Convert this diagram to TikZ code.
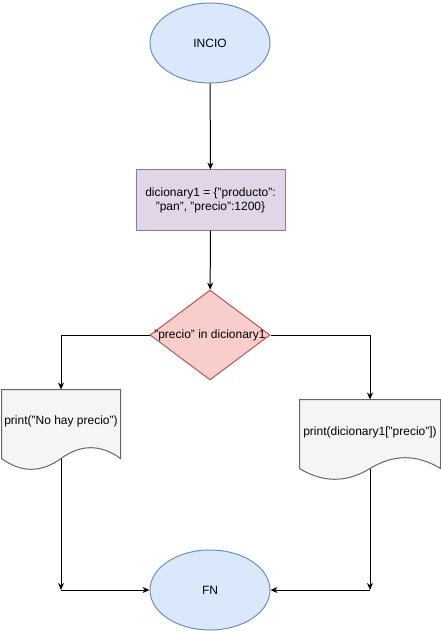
\documentclass[tikz,border=0pt]{standalone}
\usepackage{fontspec}
\setmainfont{Liberation Sans}
\usetikzlibrary{shapes.geometric,arrows.meta,calc}

\definecolor{termfill}{HTML}{DAE8FC}
\definecolor{termline}{HTML}{6C8EBF}
\definecolor{procfill}{HTML}{E1D5E7}
\definecolor{procline}{HTML}{9673A6}
\definecolor{decfill}{HTML}{F8CECC}
\definecolor{decline}{HTML}{B85450}
\definecolor{docfill}{HTML}{F5F5F5}
\definecolor{docline}{HTML}{666666}

\tikzset{
  terminal/.style={ellipse, draw=termline, fill=termfill, minimum width=120pt, minimum height=80pt, inner sep=0pt},
  process/.style={rectangle, draw=procline, fill=procfill, minimum width=149pt, minimum height=60pt, align=center, inner sep=0pt},
  decision/.style={diamond, draw=decline, fill=decfill, minimum width=120pt, minimum height=90pt, inner sep=0pt},
  docbox/.style={rectangle, minimum height=80pt, inner sep=0pt},
  flow/.style={-{Stealth[length=7pt,width=6pt]}, black}
}

% document shape with wavy bottom
\newcommand{\docwave}[1]{
  \draw[docline, fill=docfill] (#1.north west) -- (#1.north east) -- ($(#1.south east)+(0,-12)$)
    .. controls ($(#1.south west)!0.8333!(#1.south east)+(0,-26.4)$) and ($(#1.south west)!0.6667!(#1.south east)+(0,-26.4)$) .. ($(#1.south west)!0.5!(#1.south east)+(0,-12)$)
    .. controls ($(#1.south west)!0.3333!(#1.south east)+(0,2.4)$) and ($(#1.south west)!0.1667!(#1.south east)+(0,2.4)$) .. ($(#1.south west)+(0,-12)$)
    -- cycle;
}

\begin{document}
\begin{tikzpicture}[x=1pt,y=-1pt,line width=1pt,font=\fontsize{12}{14}\selectfont]
  \useasboundingbox (0,0) rectangle (441,631);

  \node[terminal] (start) at (210,43) {INCIO};
  \node[process] (dict) at (210.5,200) {dicionary1 = \{"producto":\\"pan", "precio":1200\}};
  \node[decision] (cond) at (210,335) {\makebox[0pt]{"precio" in dicionary1}};
  \node[docbox, minimum width=118pt] (nodoc) at (61,430) {};
  \node[docbox, minimum width=140pt] (yesdoc) at (370,440) {};
  \node[terminal] (stop) at (210,590) {FN};

  \docwave{nodoc}
  \docwave{yesdoc}
  \node (notext) at (61,421) {print("No hay precio")};
  \node (yestext) at (370,432) {print(dicionary1["precio"])};

  \coordinate (nobottom) at ($(nodoc.south)+(0,-12)$);
  \coordinate (yesbottom) at ($(yesdoc.south)+(0,-12)$);
  \coordinate (nojoin) at (nodoc.south |- stop);
  \coordinate (yesjoin) at (yesdoc.south |- stop);

  \draw[flow] (start) -- (dict);
  \draw[flow] (dict) -- (cond);
  \draw[flow] (cond.west) -| (nodoc.north);
  \draw[flow] (cond.east) -| (yesdoc.north);
  \draw[flow] (nobottom) -- (nojoin);
  \draw[flow] (nojoin) -- (stop.west);
  \draw[flow] (yesbottom) -- (yesjoin);
  \draw[flow] (yesjoin) -- (stop.east);
\end{tikzpicture}
\end{document}
